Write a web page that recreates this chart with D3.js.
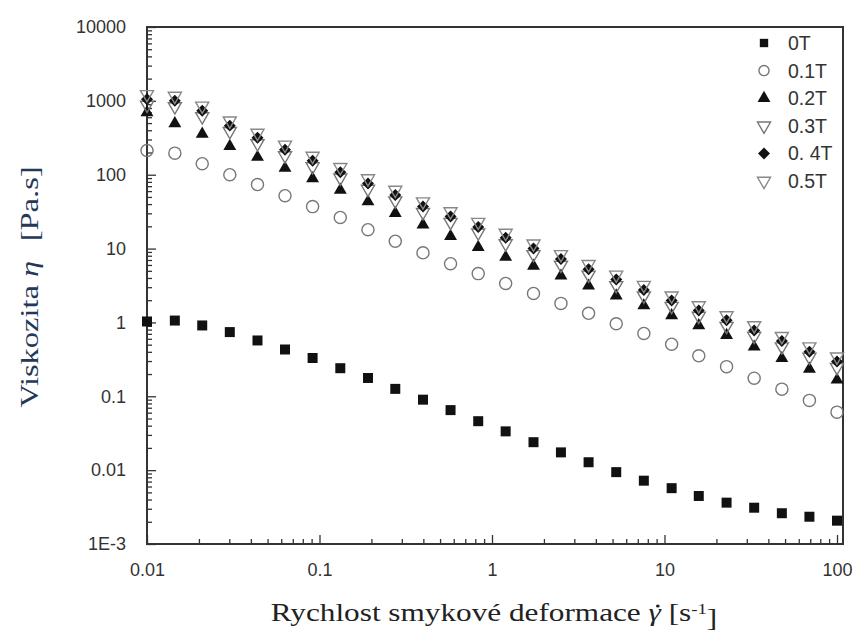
<!DOCTYPE html>
<html>
<head>
<meta charset="utf-8">
<script src="https://cdn.jsdelivr.net/npm/d3@7"></script>
<style>
  body { margin: 0; background: #fff; }
  svg { display: block; }
</style>
</head>
<body>
<div class="chart"></div>
<script>
var width = 856;
var height = 633;

// shear rate [1/s], 26 points log ramp
var rate = [0.01, 0.0145, 0.0209, 0.0302, 0.0437, 0.0631, 0.0912, 0.132, 0.191, 0.275,
	0.398, 0.575, 0.832, 1.2, 1.74, 2.51, 3.63, 5.25, 7.59, 11, 15.8, 22.9, 33.1, 47.9, 69.2, 100];

// viscosity [Pa.s] per field
var v0T = [1.03, 1.06, 0.91, 0.74, 0.57, 0.43, 0.33, 0.24, 0.177, 0.126, 0.09, 0.065, 0.046,
	0.0335, 0.0239, 0.0174, 0.0128, 0.0094, 0.0072, 0.0057, 0.00447, 0.00363, 0.0031, 0.00261, 0.00234, 0.00207];
var v01T = [213, 196, 141, 100, 73.6, 52, 37, 26.4, 18, 12.6, 8.76, 6.24, 4.58,
	3.37, 2.47, 1.81, 1.33, 0.96, 0.71, 0.507, 0.353, 0.252, 0.176, 0.125, 0.088, 0.061];
var v02T = [695, 494, 356, 243, 173, 123, 88.7, 62, 43.2, 30.1, 21, 14.7, 10.4,
	7.67, 5.81, 4.27, 3.13, 2.3, 1.69, 1.24, 0.91, 0.67, 0.467, 0.326, 0.234, 0.167];
var v03T = [880, 840, 615, 388, 265, 182, 129, 91, 64, 44.6, 31, 22.8, 16.4,
	11.7, 8.35, 6.0, 4.4, 3.17, 2.3, 1.66, 1.22, 0.89, 0.655, 0.47, 0.34, 0.247];
var v04T = [1050, 1000, 735, 462, 316, 218, 154, 108, 76, 53, 37, 27.2, 19.6,
	14.0, 10.0, 7.2, 5.25, 3.8, 2.75, 1.98, 1.45, 1.07, 0.78, 0.56, 0.40, 0.295];
var v05T = [1222, 1163, 855, 538, 367, 253, 179, 126, 88.8, 62, 43.2, 31.7, 22.8,
	16.2, 11.6, 8.34, 6.12, 4.4, 3.2, 2.3, 1.69, 1.24, 0.91, 0.65, 0.47, 0.343];

var labels = ["0T", "0.1T", "0.2T", "0.3T", "0. 4T", "0.5T"];
var xTicks = [0.01, 0.1, 1, 10, 100];
var xTickLabels = ["0.01", "0.1", "1", "10", "100"];
var yTicks = [10000, 1000, 100, 10, 1, 0.1, 0.01, 0.001];
var yTickLabels = ["10000", "1000", "100", "10", "1", "0.1", "0.01", "1E-3"];

var series = [v0T, v01T, v02T, v03T, v04T, v05T];

// marker styles
var styles = [
	{ type: d3.symbolSquare, size: 100, rot: 0, fill: "#111", stroke: "none" },
	{ type: d3.symbolCircle, size: 115, rot: 0, fill: "none", stroke: "#777" },
	{ type: d3.symbolTriangle, size: 72, rot: 0, fill: "#111", stroke: "none" },
	{ type: d3.symbolTriangle, size: 74, rot: 180, fill: "none", stroke: "#777" },
	{ type: d3.symbolSquare, size: 72, rot: 45, fill: "#111", stroke: "none" },
	{ type: d3.symbolTriangle, size: 74, rot: 180, fill: "none", stroke: "#888" }
];

var pLeft = 147, pRight = 843, pTop = 27, pBottom = 544;

var x = d3.scaleLog().domain([0.01, 100]).range([pLeft, 837]);
var y = d3.scaleLog().domain([0.001, 10000]).range([pBottom, pTop]);

var svg = d3.select('.chart').append('svg')
	.attr("width", width)
	.attr("height", height);

// minor ticks
var minorX = [], minorY = [];
for (var e = -2; e < 2; e++) for (var k = 2; k < 10; k++) minorX.push(k * Math.pow(10, e));
for (var e = -3; e < 4; e++) for (var k = 2; k < 10; k++) minorY.push(k * Math.pow(10, e));

function styleAxis(g) {
	g.select(".domain").remove();
	g.selectAll("line").attr("stroke", "#333").attr("stroke-width", 1.3);
	g.selectAll("text")
		.attr("fill", "#333")
		.attr("font-family", "Liberation Sans, Arial, sans-serif")
		.attr("font-size", 18);
}

svg.append("g").attr("transform", "translate(0," + pBottom + ")")
	.call(d3.axisBottom(x).tickValues(minorX).tickSizeInner(-5).tickSizeOuter(0).tickFormat(""))
	.call(styleAxis);
svg.append("g").attr("transform", "translate(0," + pBottom + ")")
	.call(d3.axisBottom(x).tickValues(xTicks).tickSizeInner(-9).tickSizeOuter(0).tickPadding(19)
		.tickFormat(function(d, i) { return xTickLabels[i]; }))
	.call(styleAxis);
svg.append("g").attr("transform", "translate(" + pLeft + ",0)")
	.call(d3.axisLeft(y).tickValues(minorY).tickSizeInner(-5).tickSizeOuter(0).tickFormat(""))
	.call(styleAxis);
svg.append("g").attr("transform", "translate(" + pLeft + ",0)")
	.call(d3.axisLeft(y).tickValues(yTicks).tickSizeInner(-9).tickSizeOuter(0).tickPadding(21)
		.tickFormat(function(d, i) { return yTickLabels[i]; }))
	.call(styleAxis);

// frame
svg.append("rect")
	.attr("x", pLeft).attr("y", pTop)
	.attr("width", pRight - pLeft).attr("height", pBottom - pTop)
	.attr("fill", "none").attr("stroke", "#333").attr("stroke-width", 2);

function drawMarker(sel, s) {
	sel.attr("d", d3.symbol().type(s.type).size(s.size))
		.attr("fill", s.fill)
		.attr("stroke", s.stroke)
		.attr("stroke-width", 1.4);
}

series.forEach(function(vals, si) {
	var s = styles[si];
	svg.append("g").selectAll("path").data(vals).enter().append("path")
		.attr("transform", function(d, i) { return "translate(" + x(rate[i]) + "," + y(d) + ") rotate(" + s.rot + ")"; })
		.call(drawMarker, s);
});

// legend
var legend = svg.append("g").selectAll("g").data(labels).enter().append("g")
	.attr("transform", function(d, i) { return "translate(764," + (43 + i * 27.6) + ")"; });
legend.append("path")
	.attr("transform", function(d, i) { return "rotate(" + styles[i].rot + ")"; })
	.each(function(d, i) {
		var s = Object.assign({}, styles[i]);
		if (i == 0) s.size = 70;
		if (i == 1) s.size = 80;
		d3.select(this).call(drawMarker, s);
	});
legend.append("text")
	.attr("x", 24).attr("dy", "0.36em")
	.attr("fill", "#333")
	.attr("font-family", "Liberation Sans, Arial, sans-serif")
	.attr("font-size", 19.5)
	.text(function(d) { return d; });

// axis titles (reference text is stretched along its line)
var xg = svg.append("g").attr("transform", "translate(494,621) scale(1.25,1)");
var xt = xg.append("text")
	.attr("text-anchor", "middle")
	.attr("fill", "#222")
	.attr("font-family", "Liberation Serif, Times New Roman, serif")
	.attr("font-size", 25);
var pre = "Rychlost smykové deformace ";
xt.append("tspan").text(pre);
xt.append("tspan").attr("font-style", "italic").text("γ");
xt.append("tspan").text("  [s");
xt.append("tspan").attr("dy", "-0.45em").attr("font-size", 15).text("-1");
xt.append("tspan").attr("dy", "0.45em").text("]");

// dot over gamma
var gs = xt.node().getStartPositionOfChar(pre.length);
var ge = xt.node().getEndPositionOfChar(pre.length);
xg.append("circle")
	.attr("cx", (gs.x + ge.x) / 2 + 2.5)
	.attr("cy", gs.y - 15)
	.attr("r", 1.5)
	.attr("fill", "#222");

var yt = svg.append("text")
	.attr("transform", "translate(38,287) rotate(-90) scale(1.3,1)")
	.attr("text-anchor", "middle")
	.attr("fill", "#24385a")
	.attr("font-family", "Liberation Serif, Times New Roman, serif")
	.attr("font-size", 25);
yt.append("tspan").text("Viskozita ");
yt.append("tspan").attr("font-style", "italic").text("η");
yt.append("tspan").attr("dx", "0.6em").text("[Pa.s]");
</script>
</body>
</html>
